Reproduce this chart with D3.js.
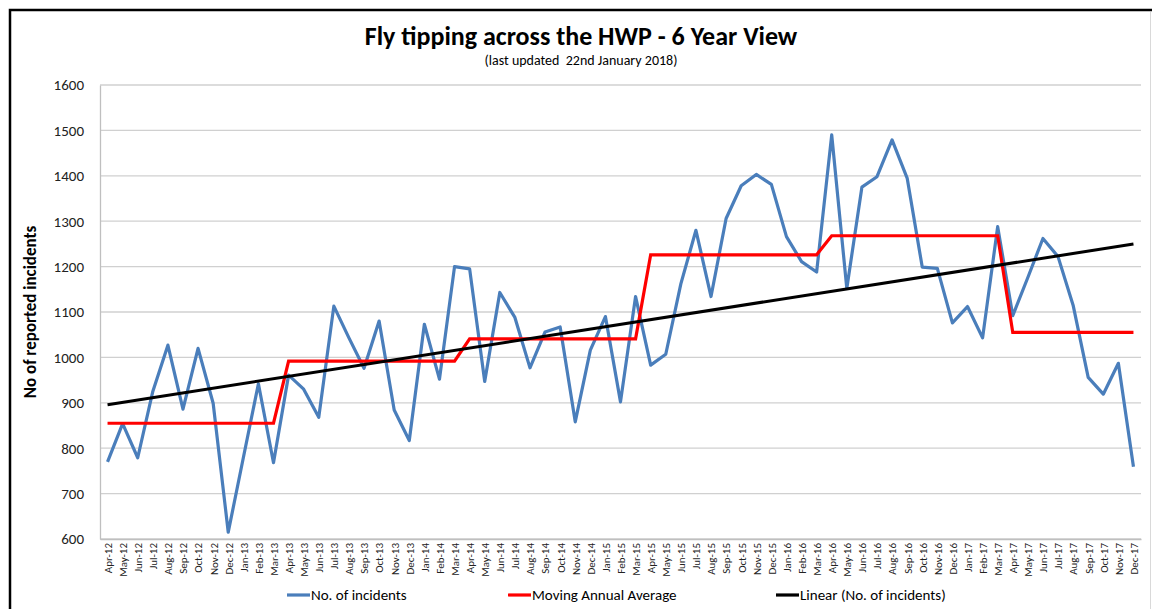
<!DOCTYPE html>
<html>
<head>
<meta charset="utf-8">
<script src="https://cdn.jsdelivr.net/npm/d3@7"></script>
<style>
  body { margin: 0; background: #fff; }
  svg { display: block; font-family: Carlito, Lato, "Open Sans", sans-serif; }
</style>
</head>
<body>
<svg id="chart" width="1152" height="609"></svg>
<script>
'use strict';

// months shown on the x axis
const months = ['Apr-12','May-12','Jun-12','Jul-12','Aug-12','Sep-12','Oct-12','Nov-12','Dec-12',
  'Jan-13','Feb-13','Mar-13','Apr-13','May-13','Jun-13','Jul-13','Aug-13','Sep-13','Oct-13','Nov-13','Dec-13',
  'Jan-14','Feb-14','Mar-14','Apr-14','May-14','Jun-14','Jul-14','Aug-14','Sep-14','Oct-14','Nov-14','Dec-14',
  'Jan-15','Feb-15','Mar-15','Apr-15','May-15','Jun-15','Jul-15','Aug-15','Sep-15','Oct-15','Nov-15','Dec-15',
  'Jan-16','Feb-16','Mar-16','Apr-16','May-16','Jun-16','Jul-16','Aug-16','Sep-16','Oct-16','Nov-16','Dec-16',
  'Jan-17','Feb-17','Mar-17','Apr-17','May-17','Jun-17','Jul-17','Aug-17','Sep-17','Oct-17','Nov-17','Dec-17'];

// No. of incidents
const incidents = [770, 854, 779, 925, 1027, 886, 1020, 899, 615,
  779, 942, 768, 961, 930, 868, 1113, 1043, 976, 1080, 884, 817,
  1073, 952, 1200, 1195, 947, 1143, 1088, 977, 1056, 1067, 858, 1016,
  1090, 902, 1134, 983, 1007, 1162, 1280, 1134, 1306, 1378, 1403, 1381,
  1266, 1211, 1188, 1490, 1152, 1375, 1398, 1479, 1395, 1199, 1196, 1076,
  1112, 1043, 1288, 1092, 1176, 1262, 1222, 1115, 956, 919, 987, 759];

// moving annual average, one value per financial year (Apr - Mar)
const annualAverage = [855, 992, 1041, 1226, 1268, 1055];
const monthsPerYear = [12, 12, 12, 12, 12, 9];

const yTicks = [600, 700, 800, 900, 1000, 1100, 1200, 1300, 1400, 1500, 1600];

const legendItems = ['No. of incidents', 'Moving Annual Average', 'Linear (No. of incidents)'];
const colours = ['#4a7ebb', '#ff0000', '#000000'];

const svg = d3.select('#chart');
const margin = {top: 85, right: 11, bottom: 70, left: 100};
const width = 1152 - margin.left - margin.right,
      height = 609 - margin.top - margin.bottom;
const font = 'Carlito, Lato, "Open Sans", sans-serif';

// outer frame
svg.append('rect').attr('x', 10).attr('y', 10).attr('width', 1160).attr('height', 640)
  .attr('fill', 'none').attr('stroke', '#000').attr('stroke-width', 2.5);
svg.append('line').attr('x1', 1150.5).attr('x2', 1150.5).attr('y1', 12).attr('y2', 609)
  .attr('stroke', '#d9d9d9').attr('stroke-width', 1);

svg.append('text').attr('x', 581).attr('y', 45).attr('text-anchor', 'middle')
  .style('font-size', '26px').style('font-weight', 'bold').text('Fly tipping across the HWP - 6 Year View');
svg.append('text').attr('x', 581).attr('y', 65).attr('text-anchor', 'middle')
  .style('font-size', '14px').style('white-space', 'pre').text('(last updated  22nd January 2018)');

const x = d3.scalePoint().domain(months).range([0, width]).padding(0.5);
const y = d3.scaleLinear().domain([600, 1600]).range([height, 0]);

const g = svg.append('g').attr('transform', 'translate(' + margin.left + ',' + margin.top + ')');

// gridlines
g.append('g').selectAll('line').data(yTicks).enter().append('line')
  .attr('x1', 0).attr('x2', width)
  .attr('y1', d => y(d)).attr('y2', d => y(d))
  .attr('stroke', '#d0d0d0').attr('stroke-width', 1.3);

// y axis
const yAxis = g.append('g')
  .call(d3.axisLeft(y).tickValues(yTicks).tickFormat(d3.format('d')).tickSize(0).tickPadding(16));
yAxis.select('.domain').attr('stroke', '#bfbfbf').attr('stroke-width', 1.3);
yAxis.selectAll('text').style('font-size', '15px').style('font-family', font).attr('fill', '#222');

// x axis
const xAxis = g.append('g').attr('transform', 'translate(0,' + height + ')')
  .call(d3.axisBottom(x).tickSize(0));
xAxis.select('.domain').attr('stroke', '#bfbfbf').attr('stroke-width', 1.3);
xAxis.selectAll('text')
  .style('font-size', '11px').style('font-family', font).attr('fill', '#222')
  .attr('text-anchor', 'end')
  .attr('transform', 'rotate(-90)')
  .attr('x', -4).attr('y', 0).attr('dy', '0.35em');

svg.append('text')
  .attr('transform', 'translate(36,' + (margin.top + height / 2) + ') rotate(-90)')
  .attr('text-anchor', 'middle')
  .style('font-size', '17px').style('font-weight', 'bold')
  .text('No of reported incidents');

// moving annual average expanded to one value per month
const maa = [];
annualAverage.forEach(function(v, i) {
  for (let k = 0; k < monthsPerYear[i]; k++) maa.push(v);
});

// least squares trend of the incidents
const n = incidents.length;
const mx = d3.mean(incidents, (d, i) => i), my = d3.mean(incidents);
let sxy = 0, sxx = 0;
incidents.forEach(function(d, i) { sxy += (i - mx) * (d - my); sxx += (i - mx) * (i - mx); });
const slope = sxy / sxx, icpt = my - slope * mx;
const trend = [icpt, icpt + slope * (n - 1)];

const line = d3.line().x((d, i) => x(months[i])).y(d => y(d));

g.append('path').datum(incidents).attr('d', line)
  .attr('fill', 'none').attr('stroke', colours[0]).attr('stroke-width', 3.2).attr('stroke-linejoin', 'round');
g.append('path').datum(maa).attr('d', line)
  .attr('fill', 'none').attr('stroke', colours[1]).attr('stroke-width', 3.2);
g.append('line')
  .attr('x1', x(months[0])).attr('y1', y(trend[0]))
  .attr('x2', x(months[n - 1])).attr('y2', y(trend[1]))
  .attr('stroke', colours[2]).attr('stroke-width', 3);

// legend
const legendX = [287, 508, 776];
const legend = svg.append('g').selectAll('g').data(legendItems).enter().append('g')
  .attr('transform', (d, i) => 'translate(' + legendX[i] + ',595)');
legend.append('line').attr('x1', 0).attr('x2', 23).attr('y1', 0).attr('y2', 0)
  .attr('stroke', (d, i) => colours[i]).attr('stroke-width', 3.2);
legend.append('text').attr('x', 24).attr('dy', '0.35em')
  .style('font-size', '15px').text(d => d);
</script>
</body>
</html>
